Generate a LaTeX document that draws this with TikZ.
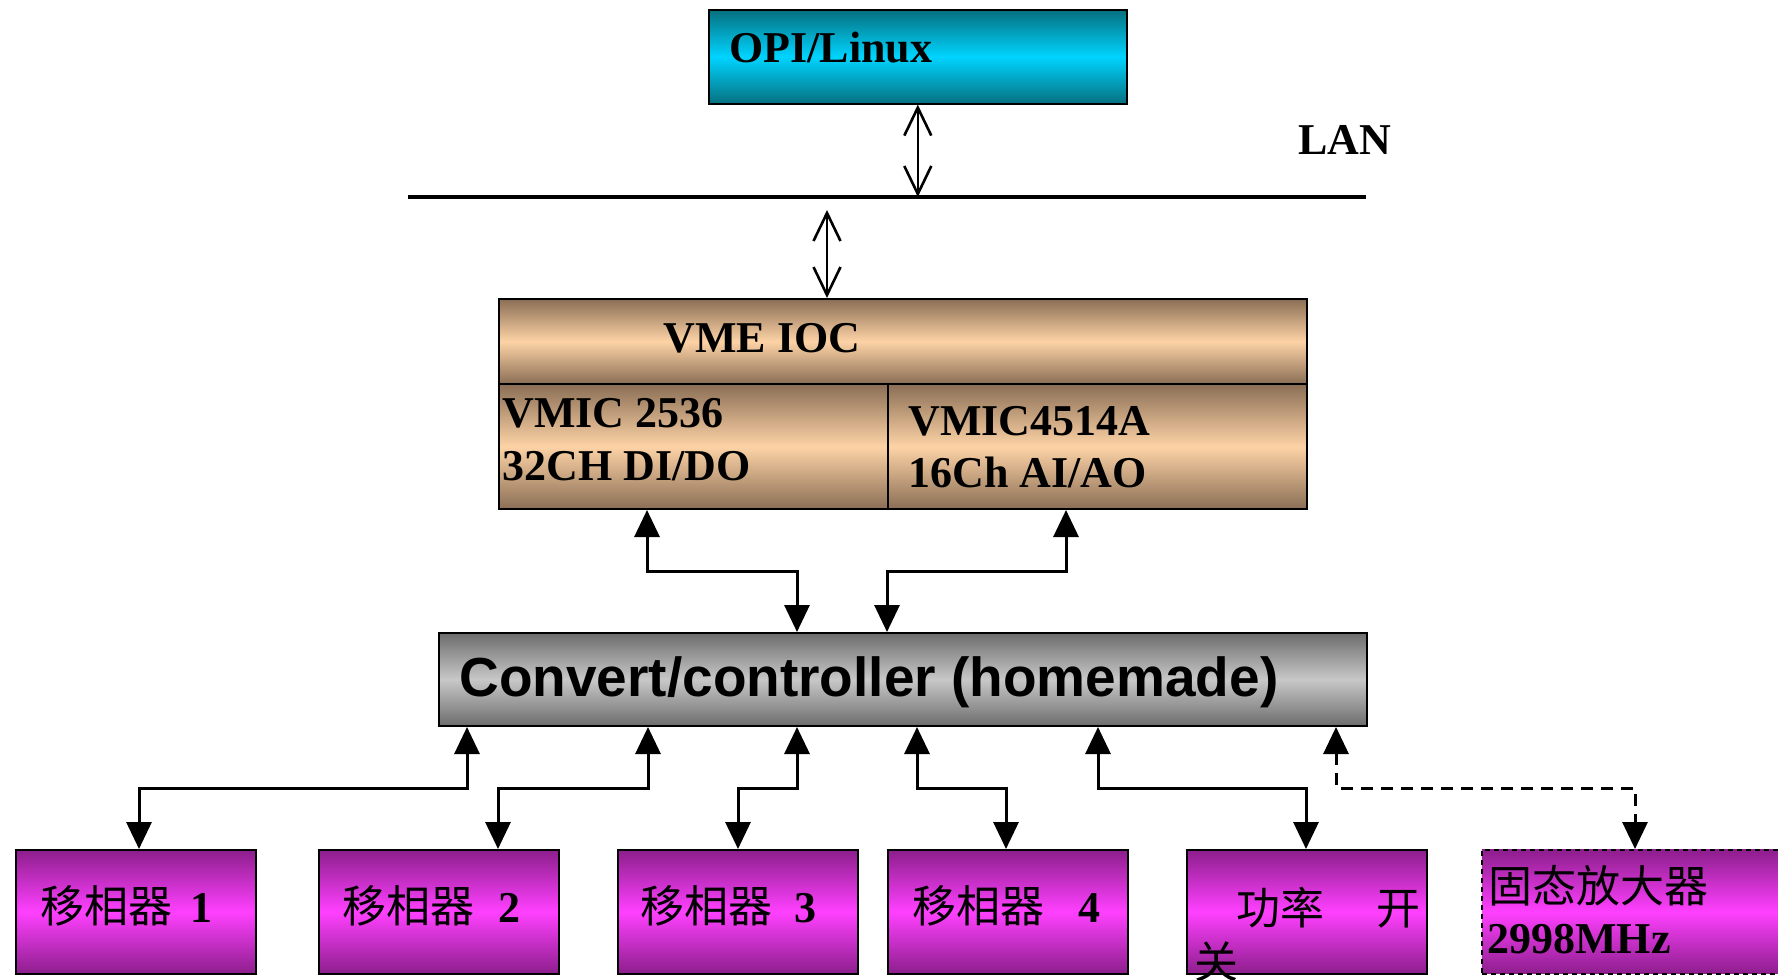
\documentclass[tikz,border=0pt]{standalone}
\usepackage{fontspec}
\setmainfont{Liberation Serif}
\newfontfamily\cjkfont{Noto Sans CJK SC}
\newfontfamily\headfont{Liberation Sans}
\usetikzlibrary{arrows.meta,calc}

\definecolor{opiedge}{HTML}{06707F}
\definecolor{opimid}{HTML}{00D4FF}
\definecolor{vmeedge}{HTML}{8A6E55}
\definecolor{vmemid}{HTML}{FDD3A6}
\definecolor{convedge}{HTML}{6C6C6C}
\definecolor{convmid}{HTML}{C8C8C8}
\definecolor{devedge}{HTML}{8C1E8C}
\definecolor{devmid}{HTML}{FF40FF}

\newcommand\zh[1]{{\cjkfont\mdseries #1}}
% orthogonal connector with its bend half way between the two ends
\newcommand\elbow[3][]{\draw[flink,#1] (#2) |- ($(#2)!.5!(#3)$) -| (#3);}

\begin{document}
\begin{tikzpicture}[x=0.5pt,y=-0.5pt,
  box/.style={draw=black, line width=0.8pt, inner sep=0pt, anchor=north west},
  opibox/.style={box, top color=opiedge, bottom color=opiedge, middle color=opimid},
  vmebox/.style={box, line width=1pt, top color=vmeedge, bottom color=vmeedge, middle color=vmemid},
  convbox/.style={box, line width=1pt, top color=convedge, bottom color=convedge, middle color=convmid},
  devbox/.style={box, minimum width=120pt, minimum height=62pt, top color=devedge, bottom color=devedge, middle color=devmid},
  lbl/.style={anchor=base west, inner sep=0pt, font=\bfseries\fontsize{22pt}{26pt}\selectfont},
  flink/.style={line width=1.5pt, >={Triangle[length=13.5pt,width=12.5pt]}, <->},
  vlink/.style={line width=1.3pt, >={Straight Barb[length=14pt,width=13.5pt]}, <->},
  optlink/.style={dash pattern=on 6pt off 4pt},
]
\useasboundingbox (0,0) rectangle (1778,980);
\clip (0,0) rectangle (1778,980);

% operator station and network
\node[opibox, minimum width=209pt, minimum height=47pt] (opi) at (708,9) {};
\node[lbl] (tOPI) at (729,62) {OPI/Linux};
\coordinate (lanL) at (408,197);
\coordinate (lanR) at (1366,197);
\draw[line width=1.8pt] (lanL) -- (lanR);
\node[lbl] (tLAN) at (1298,154) {LAN};

% VME crate
\node[vmebox, minimum width=404pt, minimum height=42.5pt] (vme) at (498,298) {};
\node[vmebox, minimum width=194.5pt, minimum height=62.5pt] (vmeA) at (498,383) {};
\node[vmebox, minimum width=209.5pt, minimum height=62.5pt] (vmeB) at (887,383) {};
\node[lbl] (tVME) at (663,352) {VME IOC};
\node[lbl] (tA1) at (502,427) {VMIC 2536};
\node[lbl] (tA2) at (502,480) {32CH DI/DO};
\node[lbl] (tB1) at (908,435) {VMIC4514A};
\node[lbl] (tB2) at (908,487) {16Ch AI/AO};

% converter
\node[convbox, minimum width=464pt, minimum height=46.5pt] (conv) at (438,632) {};
\node[anchor=base west, inner sep=0pt, font=\headfont\bfseries\fontsize{27.5pt}{30pt}\selectfont] (tConv) at (459,696) {Convert/controller (homemade)};

% devices
\node[devbox] (b1) at (15,849) {};
\node[devbox] (b2) at (318,849) {};
\node[devbox] (b3) at (617,849) {};
\node[devbox] (b4) at (887,849) {};
\node[devbox] (b5) at (1186,849) {};
\node[devbox, minimum width=160pt, dash pattern=on 2.5pt off 2pt] (b6) at (1481,849) {};

\node[lbl] (t1) at (40,922) {\zh{移相器}\hspace{9pt}1};
\node[lbl] (t2) at (342,922) {\zh{移相器}\hspace{12pt}2};
\node[lbl] (t3) at (640,922) {\zh{移相器}\hspace{11pt}3};
\node[lbl] (t4) at (912,922) {\zh{移相器}\hspace{17pt}4};
\node[lbl] (t5a) at (1236,924) {\zh{功率}\hspace{26pt}\zh{开}};
\node[lbl] (t5b) at (1194,978) {\zh{关}};
\node[lbl] (t6a) at (1488,902) {\zh{固态放大器}};
\node[lbl] (t6b) at (1487,953) {2998MHz};

% network links
\draw[vlink] (opi.south) -- (opi.south |- lanL);
\coordinate (tap) at (827,210);
\draw[vlink] (tap) -- (tap |- vme.north);

% crate to converter
\coordinate (pA) at ([xshift=74.5pt]vmeA.south west);
\coordinate (pB) at ([xshift=89.5pt]vmeB.south west);
\coordinate (cA) at ([xshift=179.5pt]conv.north west);
\coordinate (cB) at ([xshift=224.5pt]conv.north west);
\elbow{pA}{cA}
\elbow{pB}{cB}

% converter to devices
\coordinate (c1) at ([xshift=14.5pt]conv.south west);
\coordinate (c2) at ([xshift=105pt]conv.south west);
\coordinate (c3) at ([xshift=179.5pt]conv.south west);
\coordinate (c4) at ([xshift=239.5pt]conv.south west);
\coordinate (c5) at ([xshift=330pt]conv.south west);
\coordinate (c6) at ([xshift=449pt]conv.south west);
\coordinate (d1) at ([xshift=62pt]b1.north west);
\coordinate (d2) at ([xshift=90pt]b2.north west);
\coordinate (d3) at ([xshift=60.5pt]b3.north west);
\coordinate (d4) at ([xshift=59.5pt]b4.north west);
\coordinate (d5) at ([xshift=60pt]b5.north west);
\coordinate (d6) at ([xshift=77pt]b6.north west);
\elbow{c1}{d1}
\elbow{c2}{d2}
\elbow{c3}{d3}
\elbow{c4}{d4}
\elbow{c5}{d5}
\elbow[optlink]{c6}{d6}
\end{tikzpicture}
\end{document}
